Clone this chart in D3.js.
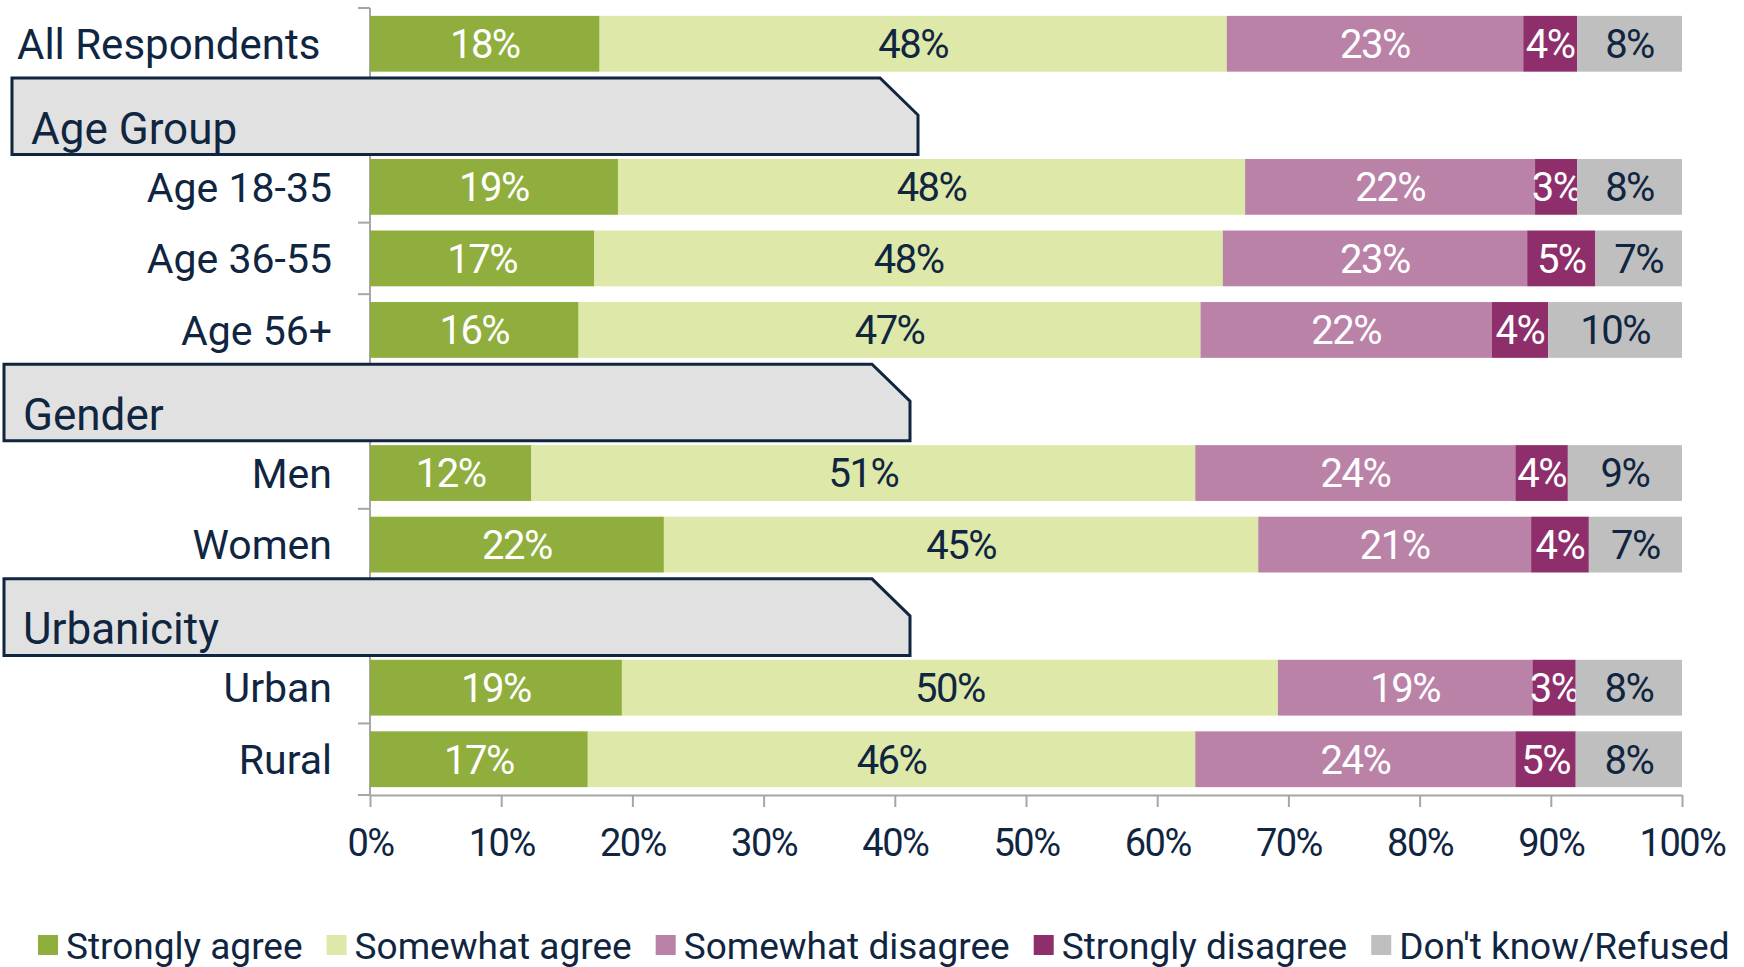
<!DOCTYPE html>
<html>
<head>
<meta charset="utf-8">
<script src="https://cdn.jsdelivr.net/npm/d3@7"></script>
<style>
	body { margin: 0; background: #fff; }
	svg { display: block; font-family: Roboto, "Open Sans", sans-serif; }
</style>
</head>
<body>
<div id="chart"></div>
<script>
// Rows from top to bottom; the header rows carry no bar
const rows = ["All Respondents", "Age Group", "Age 18-35", "Age 36-55", "Age 56+", "Gender", "Men", "Women", "Urbanicity", "Urban", "Rural"];
const headers = ["Age Group", "Gender", "Urbanicity"];

// Answers (stack order) and their colours
const seriesNames = ["Strongly agree", "Somewhat agree", "Somewhat disagree", "Strongly disagree", "Don't know/Refused"];
const seriesColors = ["#8fae3e", "#dde8a9", "#bb82a8", "#8e2f6c", "#bfbfbf"];

// Shares in percent, one value per bar row
const barRows = ["All Respondents", "Age 18-35", "Age 36-55", "Age 56+", "Men", "Women", "Urban", "Rural"];
const stronglyAgree    = [17.5, 18.9, 17.1, 15.9, 12.3, 22.4, 19.2, 16.6];
const somewhatAgree    = [47.8, 47.8, 47.9, 47.4, 50.6, 45.3, 50.0, 46.3];
const somewhatDisagree = [22.6, 22.1, 23.2, 22.2, 24.4, 20.8, 19.4, 24.4];
const stronglyDisagree = [4.1, 3.2, 5.2, 4.3, 4.0, 4.4, 3.3, 4.6];
const dontKnow         = [8.0, 8.0, 6.6, 10.2, 8.7, 7.1, 8.1, 8.1];

const xTicks = [0, 10, 20, 30, 40, 50, 60, 70, 80, 90, 100];

const navy = "#10253f";
const axisGrey = "#a6a6a6";
const width = 1744, height = 967;

// Building the table d3.stack wants
const seriesValues = [stronglyAgree, somewhatAgree, somewhatDisagree, stronglyDisagree, dontKnow];
const table = barRows.map((r, i) => {
	let o = { row: r };
	seriesNames.forEach((s, j) => { o[s] = seriesValues[j][i]; });
	return o;
});
const stacked = d3.stack().keys(seriesNames)(table);

let svg = d3.select("#chart").append("svg")
	.attr("width", width)
	.attr("height", height);

let x = d3.scaleLinear().domain([0, 100]).range([370, 1682]);
let y = d3.scaleBand().domain(rows).range([8, 795])
	.paddingInner(0.22)
	.paddingOuter(0.11);

// Category axis (vertical line + ticks between categories)
let gAxisY = svg.append("g");
gAxisY.append("line")
	.attr("x1", x(0)).attr("x2", x(0))
	.attr("y1", y.range()[0]).attr("y2", y.range()[1])
	.attr("stroke", axisGrey).attr("stroke-width", 2);

let gap = (y.step() - y.bandwidth()) / 2;
let boundaries = [y.range()[0]].concat(rows.slice(0, -1).map(r => y(r) + y.bandwidth() + gap), [y.range()[1]]);
gAxisY.selectAll("line.tick")
	.data(boundaries)
	.enter().append("line")
	.attr("class", "tick")
	.attr("x1", x(0) - 12).attr("x2", x(0))
	.attr("y1", d => d).attr("y2", d => d)
	.attr("stroke", axisGrey).attr("stroke-width", 2);

// Bars
let gBars = svg.append("g");
let layers = gBars.selectAll("g.layer")
	.data(stacked)
	.enter().append("g")
	.attr("class", "layer")
	.attr("fill", (d, i) => seriesColors[i]);

layers.selectAll("rect")
	.data(d => d)
	.enter().append("rect")
	.attr("x", d => x(d[0]))
	.attr("y", d => y(d.data.row))
	.attr("width", d => x(d[1]) - x(d[0]))
	.attr("height", y.bandwidth());

// Value labels
let whiteText = [true, false, true, true, false];
layers.selectAll("text")
	.data(d => d.map(p => ({ p: p, key: d.key, index: d.index })))
	.enter().append("text")
	.attr("x", d => (x(d.p[0]) + x(d.p[1])) / 2)
	.attr("y", d => y(d.p.data.row) + y.bandwidth() / 2)
	.attr("dy", "0.36em")
	.attr("text-anchor", "middle")
	.attr("fill", d => whiteText[d.index] ? "#ffffff" : navy)
	.style("font-size", "40px")
	.style("letter-spacing", "-1.5px")
	.text(d => Math.round(d.p[1] - d.p[0]) + "%");

// Category labels
svg.append("g").selectAll("text")
	.data(barRows)
	.enter().append("text")
	.attr("x", (d, i) => i === 0 ? 17 : x(0) - 38)
	.attr("y", d => y(d) + y.bandwidth() / 2)
	.attr("dy", "0.36em")
	.attr("text-anchor", (d, i) => i === 0 ? "start" : "end")
	.attr("fill", navy)
	.style("font-size", (d, i) => i === 0 ? "42px" : "41px")
	.text(d => d);

// Header boxes with the clipped top-right corner
let gHead = svg.append("g");
headers.forEach((h, i) => {
	let shift = i === 0 ? 8 : 0;
	let left = 4 + shift, right = 910 + shift, cut = 38;
	let boxH = y.step() + 5;
	let top = y(h) + y.bandwidth() / 2 - boxH / 2 + 1;
	let bottom = top + boxH;
	let pts = [[left, top], [right - cut, top], [right, top + cut - 1], [right, bottom], [left, bottom]];
	gHead.append("path")
		.attr("d", d3.line()(pts) + "Z")
		.attr("fill", "#e1e1e1")
		.attr("stroke", navy)
		.attr("stroke-width", 3);
	gHead.append("text")
		.attr("x", left + 19)
		.attr("y", bottom - 11)
		.attr("fill", navy)
		.style("font-size", "44px")
		.text(h);
});

// Value axis
let gAxisX = svg.append("g")
	.attr("transform", "translate(0," + y.range()[1] + ")")
	.call(d3.axisBottom(x)
		.tickValues(xTicks)
		.tickFormat(d => d + "%")
		.tickSize(12)
		.tickSizeOuter(0)
		.tickPadding(22));
gAxisX.select(".domain").attr("stroke", axisGrey).attr("stroke-width", 2);
gAxisX.selectAll(".tick line").attr("stroke", axisGrey).attr("stroke-width", 2);
gAxisX.selectAll(".tick text")
	.attr("fill", navy)
	.style("font-family", "Roboto, sans-serif")
	.style("font-size", "38px")
	.style("letter-spacing", "-1.5px");

// Legend, laid out left to right
let gLegend = svg.append("g");
let lx = 38;
seriesNames.forEach((s, i) => {
	gLegend.append("rect")
		.attr("x", lx).attr("y", 935)
		.attr("width", 20).attr("height", 20)
		.attr("fill", seriesColors[i]);
	let t = gLegend.append("text")
		.attr("x", lx + 28)
		.attr("y", 959)
		.attr("fill", navy)
		.style("font-size", "37px")
		.text(s);
	lx += 28 + t.node().getComputedTextLength() + 24;
});
</script>
</body>
</html>
